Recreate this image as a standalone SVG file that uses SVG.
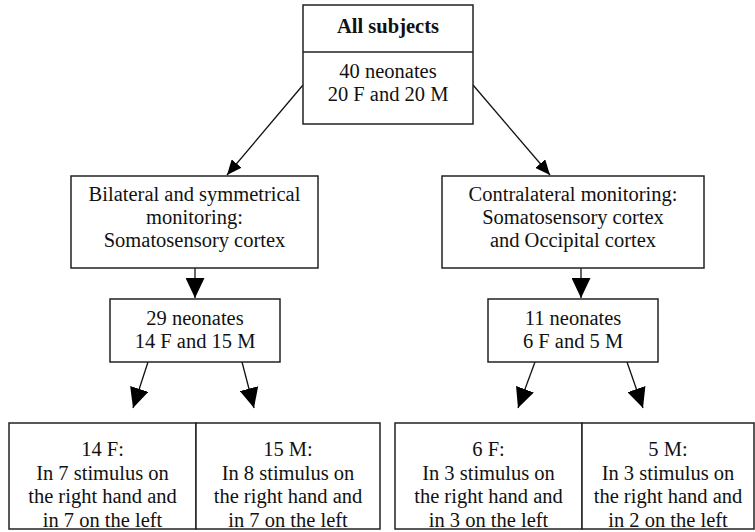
<svg xmlns="http://www.w3.org/2000/svg" width="755" height="532" viewBox="0 0 755 532">
<defs>
<style>
.box{fill:#fff;stroke:#222;stroke-width:1.5}
.t{font-family:"Liberation Serif","Times New Roman",serif;font-size:20.5px;fill:#111;text-anchor:middle}
.b{font-weight:bold}
.c{stroke:#111;stroke-width:1.3;fill:none}
</style>
<marker id="sm" markerUnits="userSpaceOnUse" markerWidth="15" markerHeight="13" refX="15" refY="6.5" orient="auto"><path d="M0,0 L15,6.5 L0,13 z" fill="#000"/></marker>
<marker id="bg" markerUnits="userSpaceOnUse" markerWidth="20" markerHeight="19" refX="20" refY="9.5" orient="auto"><path d="M0,0 L20,9.5 L0,19 z" fill="#000"/></marker>
</defs>
<rect width="755" height="532" fill="#fff"/>
<g id="connectors">
<line class="c" x1="303" y1="85" x2="227" y2="175" marker-end="url(#sm)"/>
<line class="c" x1="473" y1="85" x2="550" y2="175" marker-end="url(#sm)"/>
<line class="c" x1="195" y1="268" x2="195" y2="298" marker-end="url(#bg)"/>
<line class="c" x1="581" y1="268" x2="581" y2="298" marker-end="url(#bg)"/>
<line class="c" x1="148" y1="362" x2="133" y2="408" marker-end="url(#bg)"/>
<line class="c" x1="242" y1="362" x2="254" y2="408" marker-end="url(#bg)"/>
<line class="c" x1="535" y1="362" x2="518" y2="408" marker-end="url(#bg)"/>
<line class="c" x1="627" y1="362" x2="643" y2="408" marker-end="url(#bg)"/>
</g>
<g id="all-subjects">
<rect class="box" x="303" y="5" width="170" height="119"/>
<line class="box" x1="303" y1="52" x2="473" y2="52"/>
<text class="t b" x="388" y="33">All subjects</text>
<text class="t" x="388" y="78">40 neonates</text>
<text class="t" x="388" y="101">20 F and 20 M</text>
</g>
<g id="bilateral">
<rect class="box" x="71" y="176" width="247" height="92"/>
<text class="t" x="194.5" y="201">Bilateral and symmetrical</text>
<text class="t" x="194.5" y="224">monitoring:</text>
<text class="t" x="194.5" y="247">Somatosensory cortex</text>
</g>
<g id="contralateral">
<rect class="box" x="442" y="176" width="262" height="92"/>
<text class="t" x="573" y="201">Contralateral monitoring:</text>
<text class="t" x="573" y="224">Somatosensory cortex</text>
<text class="t" x="573" y="247">and Occipital cortex</text>
</g>
<g id="n29">
<rect class="box" x="110" y="299" width="170" height="63"/>
<text class="t" x="195" y="325">29 neonates</text>
<text class="t" x="195" y="348">14 F and 15 M</text>
</g>
<g id="n11">
<rect class="box" x="488" y="299" width="170" height="63"/>
<text class="t" x="573" y="325">11 neonates</text>
<text class="t" x="573" y="348">6 F and 5 M</text>
</g>
<g id="f14">
<rect class="box" x="9" y="423" width="187" height="106"/>
<text class="t" x="102.5" y="456">14 F:</text>
<text class="t" x="102.5" y="480">In 7 stimulus on</text>
<text class="t" x="102.5" y="503">the right hand and</text>
<text class="t" x="102.5" y="527">in 7 on the left</text>
</g>
<g id="m15">
<rect class="box" x="196" y="423" width="184" height="106"/>
<text class="t" x="288" y="456">15 M:</text>
<text class="t" x="288" y="480">In 8 stimulus on</text>
<text class="t" x="288" y="503">the right hand and</text>
<text class="t" x="288" y="527">in 7 on the left</text>
</g>
<g id="f6">
<rect class="box" x="395" y="423" width="187" height="106"/>
<text class="t" x="488.5" y="456">6 F:</text>
<text class="t" x="488.5" y="480">In 3 stimulus on</text>
<text class="t" x="488.5" y="503">the right hand and</text>
<text class="t" x="488.5" y="527">in 3 on the left</text>
</g>
<g id="m5">
<rect class="box" x="582" y="423" width="172" height="106"/>
<text class="t" x="668" y="456">5 M:</text>
<text class="t" x="668" y="480">In 3 stimulus on</text>
<text class="t" x="668" y="503">the right hand and</text>
<text class="t" x="668" y="527">in 2 on the left</text>
</g>
</svg>
